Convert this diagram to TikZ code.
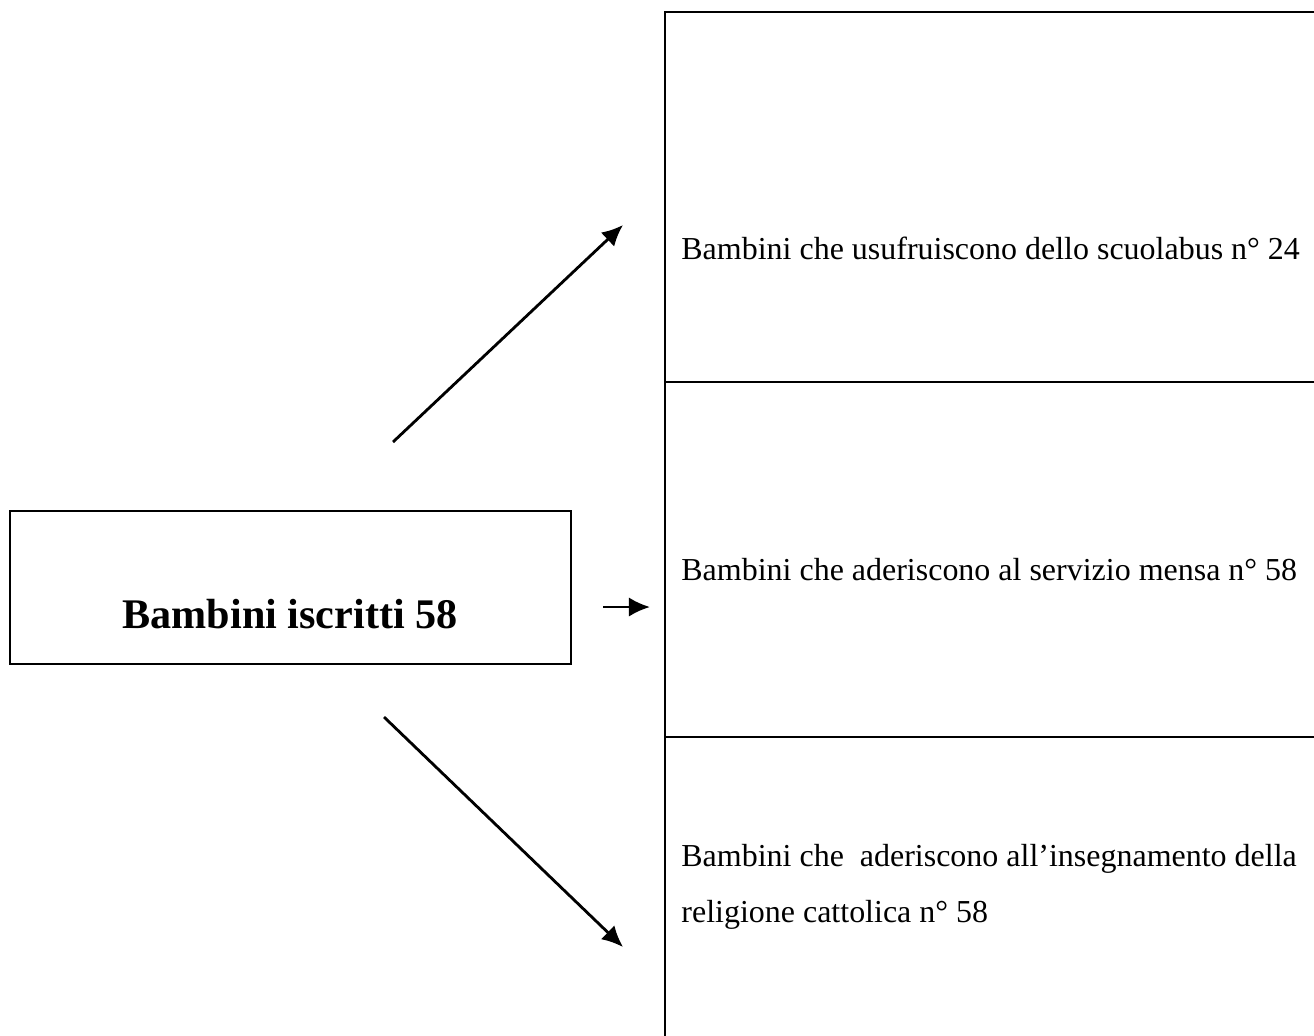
\documentclass[tikz,border=0pt]{standalone}
\usepackage{fontspec}
\setmainfont{Liberation Serif}
\usetikzlibrary{arrows.meta}

\begin{document}
\begin{tikzpicture}[x=0.02cm,y=-0.02cm,line width=1.6pt,
        freccia/.style={-{Latex[length=12pt,width=11pt]}},
        voce/.style={anchor=west,inner sep=0pt,font=\fontsize{18.2}{32}\selectfont,align=left}]
        \useasboundingbox (0,0) rectangle (1314,1035);
        % riquadro di sinistra
        \draw (10,511) rectangle (571,664);
        \node [font=\fontsize{24}{28}\selectfont\bfseries] (iscritti) at (290,614) {Bambini iscritti 58};
        % colonna di destra
        \draw (1316,12) -- (665,12) -- (665,1040);
        \draw (665,382) -- (1316,382);
        \draw (665,737) -- (1316,737);
        \node [voce] (bus) at (680,248) {Bambini che usufruiscono dello scuolabus n° 24};
        \node [voce] (mensa) at (680,570) {Bambini che aderiscono al servizio mensa n° 58};
        \node [voce] (religione) at (680,887) {Bambini che \ aderiscono all’insegnamento della\\religione cattolica n° 58};
        % frecce
        \coordinate (A1) at (393,442);
        \coordinate (B1) at (623,225);
        \coordinate (A2) at (603,607);
        \coordinate (B2) at (650,607);
        \coordinate (A3) at (384,717);
        \coordinate (B3) at (623,947);
        \draw [freccia] (A1) -- (B1);
        \draw [freccia] (A2) -- (B2);
        \draw [freccia] (A3) -- (B3);
    \end{tikzpicture}
\end{document}
